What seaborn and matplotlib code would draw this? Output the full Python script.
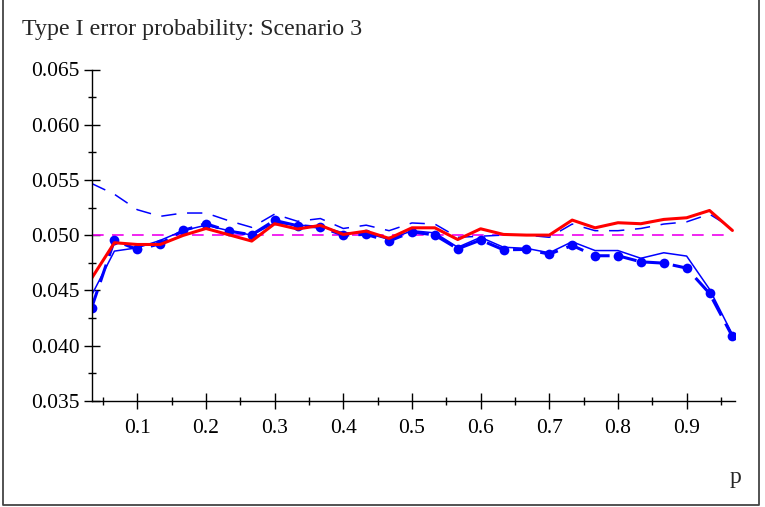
import matplotlib
matplotlib.use("Agg")
import matplotlib.pyplot as plt
import numpy as np
import pandas as pd
import seaborn as sns
from matplotlib.lines import Line2D
from matplotlib.ticker import FixedLocator, MultipleLocator, FormatStrFormatter

# p grid: k/30 for k = 1..29
p_values = [k / 30 for k in range(1, 30)]

red_solid = [
    0.04607, 0.04931, 0.04915, 0.04915, 0.04997, 0.05060, 0.05003, 0.04946, 0.05103, 0.05055,
    0.05088, 0.05006, 0.05036, 0.04970, 0.05066, 0.05066, 0.04960, 0.05057, 0.05006, 0.05000,
    0.05000, 0.05136, 0.05066, 0.05112, 0.05103, 0.05142, 0.05157, 0.05223, 0.05042,
]
blue_thin = [
    0.04453, 0.04855, 0.04885, 0.04952, 0.05040, 0.05090, 0.05040, 0.05000, 0.05110, 0.05090,
    0.05080, 0.05020, 0.05020, 0.04960, 0.05040, 0.05020, 0.04890, 0.04980, 0.04890, 0.04880,
    0.04840, 0.04940, 0.04860, 0.04860, 0.04790, 0.04840, 0.04810, 0.04510, 0.04100,
]
blue_dashed = [
    0.05468, 0.05370, 0.05230, 0.05170, 0.05200, 0.05200, 0.05130, 0.05070, 0.05190, 0.05125,
    0.05150, 0.05060, 0.05090, 0.05040, 0.05110, 0.05100, 0.04980, 0.04990, 0.05000, 0.05000,
    0.04980, 0.05100, 0.05040, 0.05040, 0.05060, 0.05100, 0.05120, 0.05190, 0.05060,
]
blue_points = [
    0.04339, 0.04952, 0.04870, 0.04921, 0.05042, 0.05103, 0.05036, 0.05003, 0.05133, 0.05085,
    0.05072, 0.05000, 0.05006, 0.04946, 0.05030, 0.05000, 0.04876, 0.04955, 0.04867, 0.04870,
    0.04828, 0.04906, 0.04813, 0.04813, 0.04758, 0.04746, 0.04701, 0.04472, 0.04082,
]
nominal_level = 0.05

x_major = [0.1, 0.2, 0.3, 0.4, 0.5, 0.6, 0.7, 0.8, 0.9]
x_minor = [0.05, 0.15, 0.25, 0.35, 0.45, 0.55, 0.65, 0.75, 0.85, 0.95]

df = pd.DataFrame({
    "p": p_values,
    "red": red_solid,
    "thin": blue_thin,
    "dashed": blue_dashed,
    "points": blue_points,
})
df["nominal"] = nominal_level

sns.set_style("ticks")
plt.rcParams["font.family"] = ["Liberation Serif", "DejaVu Serif"]

W, H = 765, 507
fig = plt.figure(figsize=(W / 100, H / 100), dpi=100)
ax = fig.add_axes([91.5 / W, 1 - 400.7 / H, (734.7 - 91.5) / W, 331.2 / H])

# nominal level, then the blue curves, red one on top
sns.lineplot(data=df, x="p", y="nominal", ax=ax, color="#ee00ee", linewidth=1.2,
             linestyle=(0, (7, 5)))
sns.lineplot(data=df, x="p", y="dashed", ax=ax, color="#0000ff", linewidth=1.1,
             linestyle=(0, (10, 7)))
sns.lineplot(data=df, x="p", y="thin", ax=ax, color="#0000ff", linewidth=1.1)
sns.lineplot(data=df, x="p", y="points", ax=ax, color="#0000ff", linewidth=2.2,
             linestyle=(0, (6, 3)), marker="o", markersize=7, markeredgewidth=0)
sns.lineplot(data=df, x="p", y="red", ax=ax, color="#ff0000", linewidth=2.2)

ax.set_xlim(1 / 30, 0.97)
ax.set_ylim(0.035, 0.065)
ax.set_xlabel("")
ax.set_ylabel("")

ax.xaxis.set_major_locator(FixedLocator(x_major))
ax.xaxis.set_minor_locator(FixedLocator(x_minor))
ax.yaxis.set_major_locator(MultipleLocator(0.005))
ax.yaxis.set_minor_locator(MultipleLocator(0.0025))
ax.yaxis.set_major_formatter(FormatStrFormatter("%.3f"))
ax.xaxis.set_major_formatter(FormatStrFormatter("%.1f"))

for side in ["top", "right"]:
    ax.spines[side].set_visible(False)
for side in ["left", "bottom"]:
    ax.spines[side].set_color("black")
    ax.spines[side].set_linewidth(1.0)

ax.tick_params(which="both", bottom=True, left=True, top=False, right=False)
ax.tick_params(which="major", direction="inout", length=11, width=1.0,
               colors="black", labelsize=15.5)
ax.tick_params(which="minor", direction="inout", length=6, width=1.0, colors="black")
ax.tick_params(axis="x", which="major", pad=7.5)
ax.tick_params(axis="y", which="major", pad=3)
ax.patch.set_alpha(0)

fig.text(22 / W, 1 - 35 / H, "Type I error probability: Scenario 3", fontsize=17.3,
         ha="left", va="baseline")
fig.text(735 / W, 1 - 477 / H, "p", fontsize=17, ha="center", va="center")

# open frame round the plot: left, bottom and right edges only
x0, x1, yb = 3.3 / W, 758.5 / W, 2.5 / H
fig.lines.append(Line2D([x0, x0, x1, x1], [1, yb, yb, 1], transform=fig.transFigure,
                        color="#444444", linewidth=1.3))

fig.savefig("out.png", dpi=100)
